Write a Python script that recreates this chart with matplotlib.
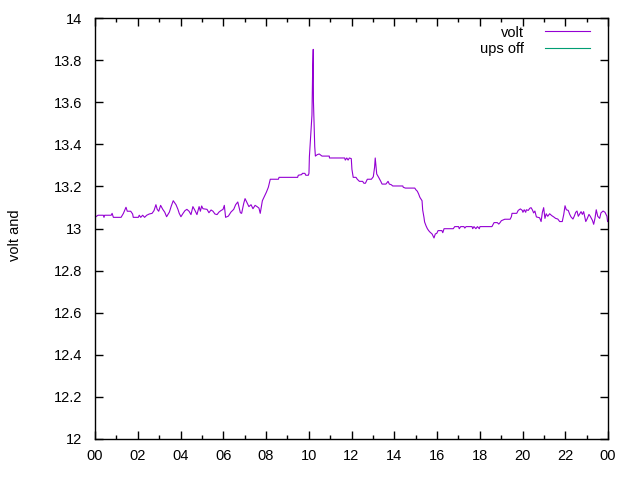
import matplotlib
matplotlib.use('Agg')
import matplotlib.pyplot as plt

plt.rcParams['font.family'] = ['Liberation Sans', 'DejaVu Sans']
plt.rcParams['font.size'] = 10.5

# voltage readings over one day (hour of day, volt)
hours = [0.00, 0.14, 0.39, 0.42, 0.45, 0.76, 0.80, 0.86, 1.22, 1.33, 1.45, 1.51, 1.67, 1.76, 1.79,
         2.03, 2.07, 2.14, 2.23, 2.32, 2.42, 2.54, 2.67, 2.76, 2.85, 2.91, 2.98, 3.07, 3.17, 3.26,
         3.35, 3.48, 3.57, 3.66, 3.79, 3.88, 3.94, 4.02, 4.12, 4.21, 4.30, 4.40, 4.49, 4.58, 4.68,
         4.77, 4.87, 4.93, 4.99, 5.05, 5.24, 5.33, 5.43, 5.52, 5.61, 5.71, 5.80, 5.89, 5.99, 6.05,
         6.11, 6.24, 6.36, 6.49, 6.58, 6.68, 6.74, 6.80, 6.86, 6.96, 7.02, 7.11, 7.20, 7.30, 7.39,
         7.49, 7.58, 7.67, 7.73, 7.80, 7.83, 7.92, 8.02, 8.11, 8.20, 8.58, 8.61, 9.48, 9.51, 9.67,
         9.70, 9.82, 9.86, 9.98, 10.01, 10.03, 10.09, 10.15, 10.18, 10.21, 10.22, 10.28, 10.31,
         10.40, 10.49, 10.62, 10.96, 10.97, 11.68, 11.71, 11.78, 11.84, 11.90, 11.99, 12.02, 12.08,
         12.21, 12.27, 12.37, 12.52, 12.58, 12.65, 12.74, 12.93, 13.02, 13.08, 13.11, 13.15, 13.18,
         13.27, 13.37, 13.43, 13.61, 13.71, 13.77, 13.86, 13.93, 14.40, 14.42, 14.52, 14.96, 15.02,
         15.08, 15.14, 15.20, 15.30, 15.33, 15.39, 15.42, 15.49, 15.55, 15.61, 15.67, 15.77, 15.86,
         15.92, 15.99, 16.05, 16.23, 16.27, 16.33, 16.76, 16.83, 17.01, 17.04, 17.11, 17.26, 17.30,
         17.36, 17.64, 17.67, 17.73, 17.82, 17.89, 17.98, 18.01, 18.57, 18.67, 18.82, 18.89, 18.95,
         19.01, 19.17, 19.42, 19.48, 19.51, 19.73, 19.80, 19.90, 19.99, 20.02, 20.08, 20.15, 20.18,
         20.27, 20.34, 20.40, 20.46, 20.52, 20.58, 20.65, 20.80, 20.87, 20.93, 20.99, 21.05, 21.11,
         21.18, 21.27, 21.37, 21.46, 21.55, 21.65, 21.74, 21.86, 21.93, 21.99, 22.05, 22.14, 22.21,
         22.27, 22.36, 22.42, 22.49, 22.55, 22.61, 22.68, 22.74, 22.80, 22.86, 22.96, 23.02, 23.11,
         23.17, 23.27, 23.33, 23.39, 23.45, 23.52, 23.61, 23.67, 23.77, 23.86, 23.95, 23.98]
volts = [13.053, 13.063, 13.063, 13.053, 13.063, 13.063, 13.072, 13.053, 13.053, 13.072, 13.101, 13.082, 13.082, 13.069, 13.053,
         13.053, 13.063, 13.053, 13.063, 13.053, 13.063, 13.069, 13.072, 13.085, 13.113, 13.091, 13.082, 13.110, 13.091, 13.078,
         13.056, 13.078, 13.107, 13.132, 13.113, 13.091, 13.072, 13.056, 13.072, 13.085, 13.091, 13.082, 13.066, 13.104, 13.085,
         13.066, 13.104, 13.082, 13.107, 13.094, 13.091, 13.075, 13.088, 13.082, 13.069, 13.066, 13.078, 13.085, 13.091, 13.110,
         13.053, 13.059, 13.078, 13.091, 13.113, 13.126, 13.101, 13.075, 13.072, 13.120, 13.142, 13.123, 13.104, 13.113, 13.094,
         13.110, 13.104, 13.097, 13.072, 13.116, 13.132, 13.151, 13.173, 13.196, 13.234, 13.234, 13.243, 13.243, 13.253, 13.256,
         13.262, 13.262, 13.253, 13.253, 13.262, 13.341, 13.436, 13.539, 13.737, 13.851, 13.602, 13.389, 13.344,
         13.351, 13.354, 13.344, 13.344, 13.335, 13.335, 13.325, 13.335, 13.325, 13.335, 13.332, 13.281, 13.243,
         13.243, 13.234, 13.224, 13.224, 13.215, 13.215, 13.234, 13.234, 13.246, 13.291, 13.335, 13.294, 13.259,
         13.243, 13.224, 13.211, 13.211, 13.224, 13.211, 13.208, 13.202, 13.202, 13.196, 13.192, 13.192, 13.183,
         13.177, 13.164, 13.148, 13.132, 13.088, 13.053, 13.031, 13.012, 12.999, 12.990, 12.983, 12.974, 12.955,
         12.974, 12.977, 12.990, 12.990, 12.980, 12.999, 12.999, 13.009, 13.009, 12.999, 13.009, 13.009, 13.002,
         13.009, 13.009, 12.999, 13.009, 12.999, 13.009, 12.999, 13.009, 13.009, 13.028, 13.028, 13.021, 13.028,
         13.037, 13.044, 13.044, 13.056, 13.072, 13.072, 13.086, 13.093, 13.086, 13.077, 13.089, 13.077, 13.089,
         13.086, 13.096, 13.099, 13.089, 13.074, 13.083, 13.055, 13.051, 13.033, 13.077, 13.099, 13.048, 13.070,
         13.058, 13.070, 13.061, 13.055, 13.048, 13.045, 13.033, 13.033, 13.067, 13.108, 13.089, 13.086, 13.067,
         13.055, 13.045, 13.058, 13.077, 13.083, 13.058, 13.070, 13.080, 13.067, 13.080, 13.033, 13.045, 13.067,
         13.058, 13.039, 13.020, 13.048, 13.089, 13.058, 13.048, 13.074, 13.083, 13.077, 13.058, 13.033]

# ups off events (none in this period)
ups_off_hours = []
ups_off_volts = []

xticks = list(range(0, 25, 2))
xticklabels = ['00', '02', '04', '06', '08', '10', '12', '14', '16', '18', '20', '22', '00']
yticks = [12, 12.2, 12.4, 12.6, 12.8, 13, 13.2, 13.4, 13.6, 13.8, 14]
yticklabels = ['12', '12.2', '12.4', '12.6', '12.8', '13', '13.2', '13.4', '13.6', '13.8', '14']

fig = plt.figure(figsize=(6.4, 4.8), dpi=100)
ax = fig.add_axes([95 / 640, 41 / 480, 513 / 640, 421 / 480])

ax.plot(hours, volts, color='#9400D3', lw=0.8, label='volt')
ax.plot(ups_off_hours, ups_off_volts, color='#009E73', lw=0.8, label='ups off')

ax.set_xlim(0, 24)
ax.set_ylim(12, 14)
ax.set_xticks(xticks)
ax.set_xticklabels(xticklabels)
ax.set_xticks(range(1, 24, 2), minor=True)
ax.set_yticks(yticks)
ax.set_yticklabels(yticklabels)

ax.tick_params(which='both', direction='in', top=True, right=True, width=1, color='black')
ax.tick_params(which='major', length=6)
ax.tick_params(which='minor', length=3)
ax.tick_params(axis='y', pad=9)
ax.tick_params(axis='x', pad=7)
for s in ax.spines.values():
    s.set_linewidth(1)

ax.set_ylabel('volt and')
ax.yaxis.set_label_coords(-0.142, 0.485)

ax.legend(loc='upper right', bbox_to_anchor=(0.965, 0.982), frameon=False, markerfirst=False,
          borderpad=0, borderaxespad=0, handlelength=3.1, handletextpad=1.4, labelspacing=0.15)

fig.savefig('out.png', dpi=100)
